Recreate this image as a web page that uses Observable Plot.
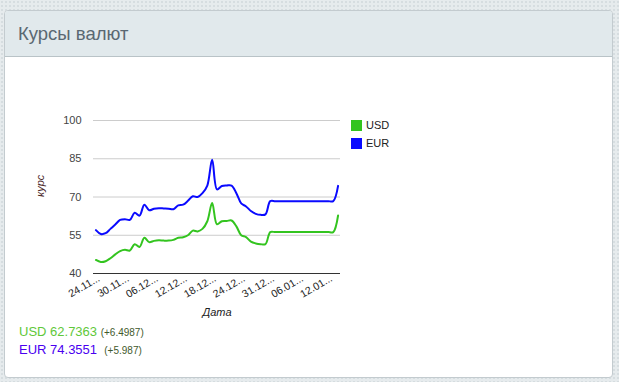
<!DOCTYPE html>
<html>
<head>
<meta charset="utf-8">
<script src="https://cdn.jsdelivr.net/npm/d3@7"></script>
<script src="https://cdn.jsdelivr.net/npm/@observablehq/plot@0.6"></script>
<style>
  html, body { margin: 0; padding: 0; }
  body {
    width: 619px; height: 382px; position: relative; overflow: hidden;
    background-color: #e6ebed;
    background-image: radial-gradient(#d6dde0 0.8px, transparent 0.9px);
    background-size: 4px 4px;
    font-family: Arial, "Liberation Sans", sans-serif;
  }
  #panel {
    position: absolute; left: 4px; top: 10px; width: 607px; height: 366px;
    background: #fff; border: 1px solid #c3cbcf; border-radius: 4px; overflow: hidden;
  }
  #header {
    position: absolute; left: 0; top: 0; width: 100%; height: 45px;
    background: #e1e9ec; border-bottom: 1px solid #b9c3c7;
  }
  #title {
    position: absolute; left: 13px; top: 12px; font-size: 18.5px; color: #5a6872;
    font-family: Arial, "Liberation Sans", sans-serif;
  }
  #chart { position: absolute; left: 0; top: 60px; }
  .leg { position: absolute; font-size: 11px; color: #222; }
  .sw { position: absolute; width: 11px; height: 11px; }
  .foot { position: absolute; left: 19px; font-size: 13px; }
  .foot small { font-size: 10px; color: #3f5a2c; }
</style>
</head>
<body>
<div id="panel">
  <div id="header"><div id="title">Курсы валют</div></div>
</div>
<div id="chart"></div>
<div id="legend"></div>
<div id="footer"></div>
<script>
const dates = [
  "24.11.2014","25.11.2014","26.11.2014","27.11.2014","28.11.2014","29.11.2014","30.11.2014",
  "01.12.2014","02.12.2014","03.12.2014","04.12.2014","05.12.2014","06.12.2014","07.12.2014",
  "08.12.2014","09.12.2014","10.12.2014","11.12.2014","12.12.2014","13.12.2014","14.12.2014",
  "15.12.2014","16.12.2014","17.12.2014","18.12.2014","19.12.2014","20.12.2014","21.12.2014",
  "22.12.2014","23.12.2014","24.12.2014","25.12.2014","26.12.2014","27.12.2014","29.12.2014",
  "30.12.2014","31.12.2014","01.01.2015","02.01.2015","03.01.2015","04.01.2015","05.01.2015",
  "06.01.2015","07.01.2015","08.01.2015","09.01.2015","10.01.2015","11.01.2015","12.01.2015",
  "13.01.2015","14.01.2015"
];
const usd = [
  45.3, 44.5, 44.8, 46.0, 47.5, 48.8, 49.3, 49.0, 51.5, 50.4, 54.0, 52.3, 52.8, 53.0, 52.9,
  52.9, 53.2, 54.0, 54.2, 55.0, 56.8, 56.5, 57.5, 60.5, 67.6, 59.3, 60.5, 60.6, 60.8, 58.5,
  55.0, 54.3, 52.5, 51.8, 51.5, 51.5, 56.24, 56.24, 56.24, 56.24, 56.24, 56.24, 56.24, 56.24,
  56.24, 56.24, 56.24, 56.24, 56.24, 56.24, 62.74
];
const eur = [
  57.0, 55.5, 55.8, 57.5, 59.2, 61.0, 61.3, 61.0, 63.8, 62.7, 67.0, 64.8, 65.4, 65.6, 65.5,
  65.4, 65.2, 66.7, 67.0, 68.5, 70.3, 70.0, 71.5, 74.5, 84.6, 73.0, 74.3, 74.5, 74.5, 71.5,
  67.5, 66.3, 64.5, 63.4, 63.0, 63.2, 68.37, 68.37, 68.37, 68.37, 68.37, 68.37, 68.37, 68.37,
  68.37, 68.37, 68.37, 68.37, 68.37, 68.37, 74.36
];
const seriesNames = ["USD", "EUR"];
const seriesColors = ["#33c41f", "#0a0aff"];
const yTicks = [40, 55, 70, 85, 100];
const xTickDates = ["24.11.2014","30.11.2014","06.12.2014","12.12.2014","18.12.2014","24.12.2014","31.12.2014","06.01.2015","12.01.2015"];
const lastValues = ["62.7363", "74.3551"];
const deltas = ["(+6.4987)", "(+5.987)"];
const footerColors = ["#5fc83a", "#4a00f0"];

const rows = [];
dates.forEach((d, i) => {
  rows.push({date: d, value: usd[i], series: "USD"});
  rows.push({date: d, value: eur[i], series: "EUR"});
});

const chart = Plot.plot({
  width: 619,
  height: 270,
  marginLeft: 93,
  marginRight: 279,
  marginTop: 60,
  marginBottom: 57,
  style: {fontFamily: "Arial, 'Liberation Sans', sans-serif", fontSize: "11px", color: "#444", background: "transparent"},
  x: {type: "point", domain: dates, padding: 0.5},
  y: {domain: [40, 100]},
  color: {domain: seriesNames, range: seriesColors},
  marks: [
    Plot.gridY(yTicks, {stroke: "#cccccc", strokeOpacity: 1}),
    Plot.ruleY([40], {stroke: "#333"}),
    Plot.axisY({ticks: yTicks, tickSize: 0, tickPadding: 12, label: null, fill: "#444", fontSize: 11}),
    Plot.axisX({ticks: xTickDates, tickSize: 0, tickRotate: -30, tickPadding: 4, dx: 3,
      tickFormat: d => d.slice(0, 5) + "...", label: null, fill: "#222", fontSize: 10.5}),
    Plot.line(rows, {x: "date", y: "value", z: "series", stroke: "series", strokeWidth: 2, curve: "catmull-rom"}),
    Plot.text(["курс"], {frameAnchor: "left", dx: -53, rotate: -90, fontStyle: "italic", fill: "#4a2828", fontSize: 11}),
    Plot.text(["Дата"], {frameAnchor: "bottom", dy: 42, fontStyle: "italic", fill: "#222", fontSize: 11})
  ]
});
document.getElementById("chart").appendChild(chart);

const legend = document.getElementById("legend");
seriesNames.forEach((s, i) => {
  const sw = document.createElement("div");
  sw.className = "sw";
  sw.style.left = "351px"; sw.style.top = (120 + i * 18) + "px";
  sw.style.background = seriesColors[i];
  legend.appendChild(sw);
  const t = document.createElement("div");
  t.className = "leg";
  t.style.left = "366px"; t.style.top = (119 + i * 18) + "px";
  t.textContent = s;
  legend.appendChild(t);
});

const footer = document.getElementById("footer");
seriesNames.forEach((s, i) => {
  const f = document.createElement("div");
  f.className = "foot";
  f.style.top = (324 + i * 18) + "px";
  f.style.color = footerColors[i];
  f.innerHTML = s + " " + lastValues[i] + " " + (i === 1 ? "&nbsp;" : "") + "<small>" + deltas[i] + "</small>";
  footer.appendChild(f);
});
</script>
</body>
</html>
